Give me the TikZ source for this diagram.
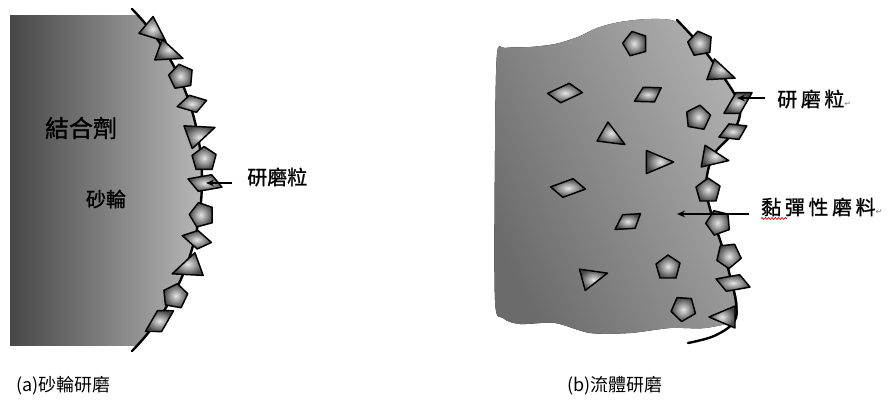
\documentclass[tikz,border=0pt]{standalone}
\usepackage{fontspec}
\newfontfamily\cjk{Noto Sans CJK TC}
\newfontfamily\cjkbf[FakeBold=1.2]{Noto Sans CJK TC}
\newfontfamily\cjkwide[LetterSpace=18, FakeBold=1]{Noto Sans CJK TC}
\newfontfamily\symf{DejaVu Sans}
\usetikzlibrary{arrows.meta, decorations.pathmorphing}

\newcommand{\retmark}{{\symf\fontsize{6}{6}\selectfont\color{black!50}\char"21B5}}

% abrasive grains
\tikzset{
    grain/.style={draw=black, line width=1.1pt, line join=round,
        inner color=black!10, outer color=black!72},
    grtri/.pic={\path[grain] (-11,-11) -- (15,0) -- (-11,11) -- cycle;},
    grpent/.pic={\path[grain] (0,-12) -- (12,-4) -- (8,11) -- (-8,11) -- (-12,-3) -- cycle;},
    grpara/.pic={\path[grain] (-16,-7) -- (8,-7) -- (16,7) -- (-8,7) -- cycle;},
    grquad/.pic={\path[grain] (-15,0) -- (-1,-9) -- (15,-1) -- (3,9) -- cycle;}
}

\begin{document}
\begin{tikzpicture}[
        x=0.75pt, y=-0.75pt,
        rim/.style={line width=1.8pt, line cap=round},
        pointer/.style={line width=1.1pt, -{Stealth[length=6pt, width=5pt]}},
        bondtxt/.style={inner sep=0pt, font=\cjkbf\fontsize{18}{20}\selectfont},
        wheeltxt/.style={inner sep=0pt, font=\cjkbf\fontsize{15}{17}\selectfont},
        gritbold/.style={inner sep=0pt, font=\cjkbf\fontsize{15}{17}\selectfont},
        tagwide/.style={inner sep=0pt, font=\cjkwide\fontsize{15}{17}\selectfont},
        capt/.style={inner sep=0pt, font=\cjk\fontsize{13.5}{15}\selectfont},
        spellmark/.style={red!80!black, line width=0.5pt, decorate,
            decoration={snake, amplitude=0.7pt, segment length=2.5pt}}
    ]
        \useasboundingbox (0,0) rectangle (893,405);

        % (a) grinding wheel
        \coordinate (wc) at (-42,180);
        \begin{scope}
            \clip (10,15) rectangle (300,345);
            \fill[left color=black!72, right color=black!25]
                (10,0) -- ([shift={(-46:244)}]wc)
                arc[start angle=-46, end angle=46, radius=244] -- (10,360) -- cycle;
        \end{scope}
        \draw[rim] ([shift={(-44.5:244)}]wc) arc[start angle=-44.5, end angle=44.5, radius=244];

        \pic[rotate=-40] at ([shift={(-37:246)}]wc) {grtri};
        \pic[rotate=-20] at ([shift={(-31:246)}]wc) {grtri};
        \pic[rotate=10] at ([shift={(-25:246)}]wc) {grpent};
        \pic[rotate=10] at ([shift={(-18:246)}]wc) {grquad};
        \pic[rotate=20, scale=1.1] at ([shift={(-11:246)}]wc) {grtri};
        \pic at ([shift={(-5:247)}]wc) {grpent};
        \pic[rotate=10] at ([shift={(0.7:247)}]wc) {grpara};
        \pic[rotate=15] at ([shift={(8:246)}]wc) {grpent};
        \pic[rotate=-15] at ([shift={(14:246)}]wc) {grquad};
        \pic[rotate=200, scale=1.1] at ([shift={(21:246)}]wc) {grtri};
        \pic[rotate=-10] at ([shift={(28:246)}]wc) {grpent};
        \pic[rotate=60] at ([shift={(35:246)}]wc) {grpara};

        \node[bondtxt] (bondlbl) at (81,128) {結合劑};
        \node[wheeltxt] (wheellbl) at (106,199) {砂輪};
        \node[gritbold, anchor=west] (gritlblA) at (247,177) {研磨粒};
        \coordinate (gritA) at (206,183);
        \draw[pointer, shorten <=11pt] (gritlblA.west |- gritA) -- (gritA);

        % (b) viscoelastic medium
        \fill[left color=black!58, right color=black!32, shading angle=115]
            plot[smooth cycle, tension=0.5] coordinates {
                (497,54) (495,150) (495,300) (503,318) (520,324) (555,323)
                (590,333) (630,333) (670,328) (705,328) (735,320) (737,300)
                (730,275) (722,245) (712,215) (706,185) (712,155) (730,135)
                (740,115) (737,98) (720,72) (700,45) (677,22) (650,19)
                (620,22) (597,28) (578,37) (555,44) (530,47) (505,48)};
        \draw[rim] plot[smooth, tension=0.6] coordinates {
            (677,20) (700,45) (720,72) (736,97) (740,115) (731,135) (713,156)
            (706,186) (712,216) (722,246) (730,276) (736,303) (734,322)
            (714,336) (688,343)};

        \pic[rotate=10] at (700,43) {grpent};
        \pic[rotate=-20] at (721,73) {grtri};
        \pic[rotate=60] at (738,103) {grpara};
        \pic[rotate=20] at (733,132) {grquad};
        \pic[rotate=-10] at (714,158) {grtri};
        \pic at (708,190) {grpent};
        \pic[rotate=20] at (718,222) {grpent};
        \pic[rotate=40] at (728,255) {grpent};
        \pic[rotate=10] at (733,283) {grpara};
        \pic[rotate=180] at (724,317) {grtri};

        \pic[rotate=15] at (635,43) {grpent};
        \pic[rotate=25] at (565,93) {grpara};
        \pic[rotate=25] at (648,95) {grquad};
        \pic[rotate=-10] at (698,117) {grpent};
        \pic[rotate=-30] at (612,137) {grtri};
        \pic[scale=1.05] at (658,162) {grtri};
        \pic[rotate=20] at (568,188) {grpara};
        \pic[rotate=30] at (628,222) {grquad};
        \pic at (668,267) {grpent};
        \pic[rotate=15] at (593,277) {grtri};
        \pic[rotate=30] at (683,308) {grpent};

        \node[tagwide, anchor=west] (gritlblB) at (777,99) {研磨粒\retmark};
        \coordinate (gritB) at (737,98);
        \draw[pointer, shorten <=9pt] (gritlblB.west |- gritB) -- (gritB);
        \node[tagwide, anchor=west] (medialbl) at (761,207) {黏彈性磨料\retmark};
        \coordinate (mediaTip) at (677,214);
        \draw[pointer, shorten <=9pt] (medialbl.west |- mediaTip) -- (mediaTip);
        \draw[spellmark] (medialbl.south west) ++(0,2) -- ++(26,0);

        % captions
        \node[capt, anchor=west] (capA) at (16,386) {(a)砂輪研磨};
        \node[capt, anchor=west] (capB) at (567,386) {(b)流體研磨};

\end{tikzpicture}
\end{document}
